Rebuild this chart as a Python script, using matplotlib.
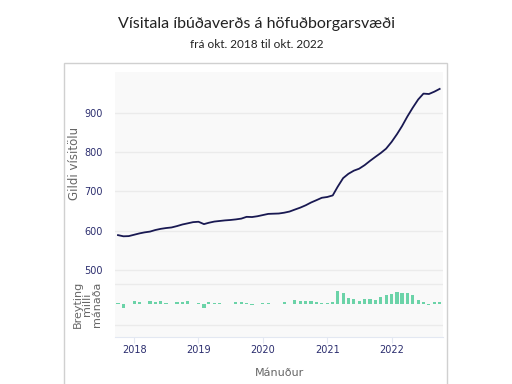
import matplotlib
matplotlib.use('Agg')
import matplotlib.pyplot as plt
from matplotlib.patches import Rectangle
import pandas as pd

# Mánaðarleg gögn, okt. 2017 - okt. 2022
start_month = '2017-10-01'
visitala = [589, 586, 586.5, 590, 593.5, 596, 598, 602, 605, 607,
            608.5, 612, 616, 619, 622, 623, 617, 620.5, 623.5, 625,
            626.5, 627.5, 629, 631, 635.5, 635, 637, 640, 643, 643.5,
            644, 646, 649, 654, 659, 665, 672, 678, 684, 686,
            690, 712, 734, 745, 753, 758, 767, 778, 788, 798,
            809, 826, 846, 866, 891, 913, 934, 949, 948, 954,
            961]
breyting = [0.2, -0.9, 0.1, 0.8, 0.4, 0.1, 0.65, 0.4, 0.65, 0.3,
            0.1, 0.5, 0.5, 0.8, 0.1, 0.3, -1.0, 0.5, 0.3, 0.3,
            0.1, 0.1, 0.5, 0.5, 0.3, -0.2, 0.1, 0.3, 0.3, 0.1,
            0.1, 0.6, 0.1, 1.0, 0.8, 0.8, 0.8, 0.6, 0.3, 0.2,
            0.6, 3.2, 2.65, 1.45, 1.3, 0.8, 1.3, 1.3, 0.9, 1.85,
            2.1, 2.5, 2.9, 2.65, 2.65, 2.25, 1.05, 0.4, -0.3, 0.5,
            0.5]
upper_ticks = [500, 600, 700, 800, 900]
year_ticks = ['2018', '2019', '2020', '2021', '2022']

dates = pd.date_range(start_month, periods=len(visitala), freq='MS')

TICK_COLOR = '#2b2d6e'
LABEL_COLOR = '#666666'
BG = '#f9f9f9'
GRID = '#ebebeb'

W, H = 512, 384
fig = plt.figure(figsize=(5.12, 3.84), dpi=100, facecolor='white')

# ramminn utan um grafið
fig.patches.append(Rectangle((64 / W, -0.05), 383 / W, 1 - 63 / H + 0.05,
                             transform=fig.transFigure, fill=False,
                             edgecolor='#d0d0d0', linewidth=1.0))

left, width = 115 / W, 328 / W
ax1 = fig.add_axes([left, 1 - 276 / H, width, 204 / H])
ax2 = fig.add_axes([left, 1 - 337 / H, width, 60 / H], sharex=ax1)

# bakgrunnur samfelldur milli beggja ása
fig.patches.append(Rectangle((left, 1 - 337 / H), width, 265 / H,
                             transform=fig.transFigure, facecolor=BG,
                             edgecolor='none', zorder=-1))

for ax in (ax1, ax2):
    ax.set_facecolor('none')
    for s in ax.spines.values():
        s.set_visible(False)
    ax.grid(True, axis='y', color=GRID, linewidth=1)
    ax.set_axisbelow(True)

ax1.plot(dates, visitala, color='#191952', linewidth=1.3)
ax1.set_ylim(485, 1004)
ax1.set_yticks(upper_ticks)
ax1.tick_params(axis='y', length=0, pad=9, labelsize=7, labelcolor=TICK_COLOR)
ax1.tick_params(axis='x', bottom=False, labelbottom=False)

ax2.bar(dates, breyting, width=18, color='#5ccf9f', alpha=0.9)
ax2.set_ylim(-8, 6.6)
ax2.set_yticks([-5, 5])
ax2.tick_params(axis='y', length=0, labelleft=False)
ax2.spines['bottom'].set_visible(True)
ax2.spines['bottom'].set_color('#e3e8f2')

year_pos = pd.to_datetime([y + '-01-01' for y in year_ticks])
ax2.set_xticks(year_pos)
ax2.set_xticklabels(year_ticks)
ax2.tick_params(axis='x', length=4, color='#e3e8f2', pad=2, labelsize=7,
                labelcolor=TICK_COLOR)
ax2.set_xlim(pd.Timestamp('2017-09-14'), pd.Timestamp('2022-10-20'))
ax2.set_xlabel('Mánuður', fontsize=8, color=LABEL_COLOR, labelpad=9)

# ásaheiti
fig.text(75 / W, 1 - 163 / H, 'Gildi vísitölu', rotation=90, ha='center',
         va='center', fontsize=8.5, color=LABEL_COLOR)
fig.text(87 / W, 1 - 304 / H, 'Breyting\nmilli\nmánaða', rotation=90,
         ha='center', va='center', fontsize=8, color=LABEL_COLOR,
         multialignment='center', linespacing=0.95)

fig.text(257 / W, 1 - 24 / H, 'Vísitala íbúðaverðs á höfuðborgarsvæði',
         ha='center', va='center', fontsize=11.5, family='Lato', color='#222222')
fig.text(257 / W, 1 - 44 / H, 'frá okt. 2018 til okt. 2022',
         ha='center', va='center', fontsize=8.5, family='Lato', color='#222222')

fig.savefig('out.png', dpi=100, facecolor='white')
